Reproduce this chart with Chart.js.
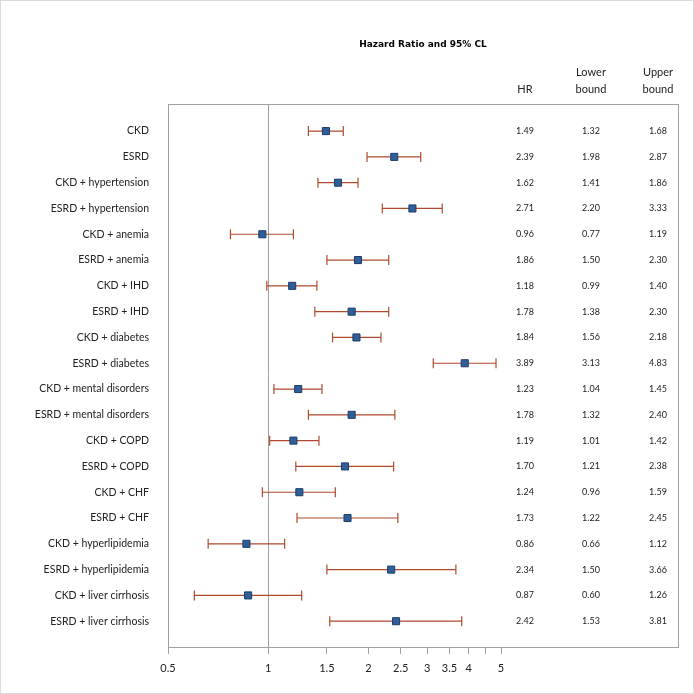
<!DOCTYPE html>
<html>
<head>
  <title>Hazard Ratio and 95% CL</title>
  <script src="https://cdn.jsdelivr.net/npm/chart.js"></script>
  <style>
    body { margin: 0; background: #fff; }
    #forest { display: block; }
  </style>
</head>
<body>
  <canvas id="forest" width="694" height="694"></canvas>

  <script>
    const groups = [
      "CKD", "ESRD", "CKD + hypertension", "ESRD + hypertension",
      "CKD + anemia", "ESRD + anemia", "CKD + IHD", "ESRD + IHD",
      "CKD + diabetes", "ESRD + diabetes", "CKD + mental disorders", "ESRD + mental disorders",
      "CKD + COPD", "ESRD + COPD", "CKD + CHF", "ESRD + CHF",
      "CKD + hyperlipidemia", "ESRD + hyperlipidemia", "CKD + liver cirrhosis", "ESRD + liver cirrhosis"
    ];
    const hr    = [1.49, 2.39, 1.62, 2.71, 0.96, 1.86, 1.18, 1.78, 1.84, 3.89, 1.23, 1.78, 1.19, 1.70, 1.24, 1.73, 0.86, 2.34, 0.87, 2.42];
    const lower = [1.32, 1.98, 1.41, 2.20, 0.77, 1.50, 0.99, 1.38, 1.56, 3.13, 1.04, 1.32, 1.01, 1.21, 0.96, 1.22, 0.66, 1.50, 0.60, 1.53];
    const upper = [1.68, 2.87, 1.86, 3.33, 1.19, 2.30, 1.40, 2.30, 2.18, 4.83, 1.45, 2.40, 1.42, 2.38, 1.59, 2.45, 1.12, 3.66, 1.26, 3.81];
    const xTicks = [0.5, 1, 1.5, 2, 2.5, 3, 3.5, 4, 4.5, 5];
    const xTickLabels = ["0.5", "1", "1.5", "2", "2.5", "3", "3.5", "4", "", "5"];

    const fontFam = "Lato, 'Liberation Sans', sans-serif";

    // whiskers with caps, drawn under the markers
    const ciBars = {
      id: 'ciBars',
      beforeDatasetsDraw(chart) {
        const ctx = chart.ctx, xs = chart.scales.x, ys = chart.scales.y;
        ctx.save();
        ctx.strokeStyle = '#b04a2e';
        ctx.lineWidth = 1.2;
        groups.forEach((g, i) => {
          const y = ys.getPixelForValue(i);
          const x1 = xs.getPixelForValue(lower[i]), x2 = xs.getPixelForValue(upper[i]);
          ctx.beginPath();
          ctx.moveTo(x1, y); ctx.lineTo(x2, y);
          ctx.moveTo(x1, y - 5); ctx.lineTo(x1, y + 5);
          ctx.moveTo(x2, y - 5); ctx.lineTo(x2, y + 5);
          ctx.stroke();
        });
        ctx.restore();
      }
    };

    // frame, title and the HR / bounds table
    const decor = {
      id: 'decor',
      afterDraw(chart) {
        const ctx = chart.ctx, a = chart.chartArea, ys = chart.scales.y;
        ctx.save();
        ctx.strokeStyle = '#a0a0a0';
        ctx.lineWidth = 1;
        ctx.strokeRect(Math.round(a.left) + 0.5, Math.round(a.top) + 0.5,
                       Math.round(a.right - a.left), Math.round(a.bottom - a.top));
        ctx.strokeStyle = '#dcdcdc';
        ctx.strokeRect(0.5, 0.5, 693, 693);

        ctx.fillStyle = '#000';
        ctx.textAlign = 'center';
        ctx.textBaseline = 'middle';
        ctx.font = "bold 9px 'DejaVu Sans', sans-serif";
        ctx.fillText('Hazard Ratio and 95% CL', (a.left + a.right) / 2, 45);

        const cols = [525, 591, 658];
        ctx.font = "11px " + fontFam;
        ctx.fillStyle = '#222';
        ctx.fillText('HR', cols[0], 89);
        ctx.fillText('Lower', cols[1], 72);
        ctx.fillText('bound', cols[1], 89);
        ctx.fillText('Upper', cols[2], 72);
        ctx.fillText('bound', cols[2], 89);

        ctx.font = "9px " + fontFam;
        groups.forEach((g, i) => {
          const y = ys.getPixelForValue(i);
          ctx.fillText(hr[i].toFixed(2), cols[0], y);
          ctx.fillText(lower[i].toFixed(2), cols[1], y);
          ctx.fillText(upper[i].toFixed(2), cols[2], y);
        });
        ctx.restore();
      }
    };

    new Chart(document.getElementById('forest'), {
      type: 'scatter',
      data: {
        datasets: [{
          data: hr.map((v, i) => ({ x: v, y: i })),
          pointStyle: 'rect',
          pointRadius: 5,
          pointHoverRadius: 5,
          backgroundColor: '#2f5f99',
          borderColor: '#1d3d66',
          borderWidth: 1
        }]
      },
      options: {
        responsive: false,
        animation: false,
        layout: { padding: { top: 104, right: 16, left: 0, bottom: 0 } },
        plugins: { legend: { display: false }, tooltip: { enabled: false } },
        scales: {
          x: {
            type: 'logarithmic',
            min: 0.5,
            max: 17,
            afterBuildTicks: s => { s.ticks = xTicks.map(v => ({ value: v })); },
            afterFit: s => { s.height = 47; },
            border: { display: false },
            grid: {
              color: c => (c.tick && c.tick.value === 1) ? '#a0a0a0' : 'rgba(0,0,0,0)',
              tickColor: '#a0a0a0',
              tickLength: 7
            },
            ticks: {
              autoSkip: false,
              maxRotation: 0,
              padding: 8,
              color: '#222',
              font: { family: fontFam, size: 11 },
              callback: (v, i) => xTickLabels[i]
            }
          },
          y: {
            type: 'linear',
            reverse: true,
            min: -1.05,
            max: 20,
            afterBuildTicks: s => { s.ticks = groups.map((g, i) => ({ value: i })); },
            afterFit: s => { s.width = 168; },
            border: { display: false },
            grid: { display: false },
            ticks: {
              autoSkip: false,
              padding: 11,
              color: '#222',
              font: { family: fontFam, size: 10.5 },
              callback: v => groups[v]
            }
          }
        }
      },
      plugins: [ciBars, decor]
    });
  </script>
</body>
</html>
